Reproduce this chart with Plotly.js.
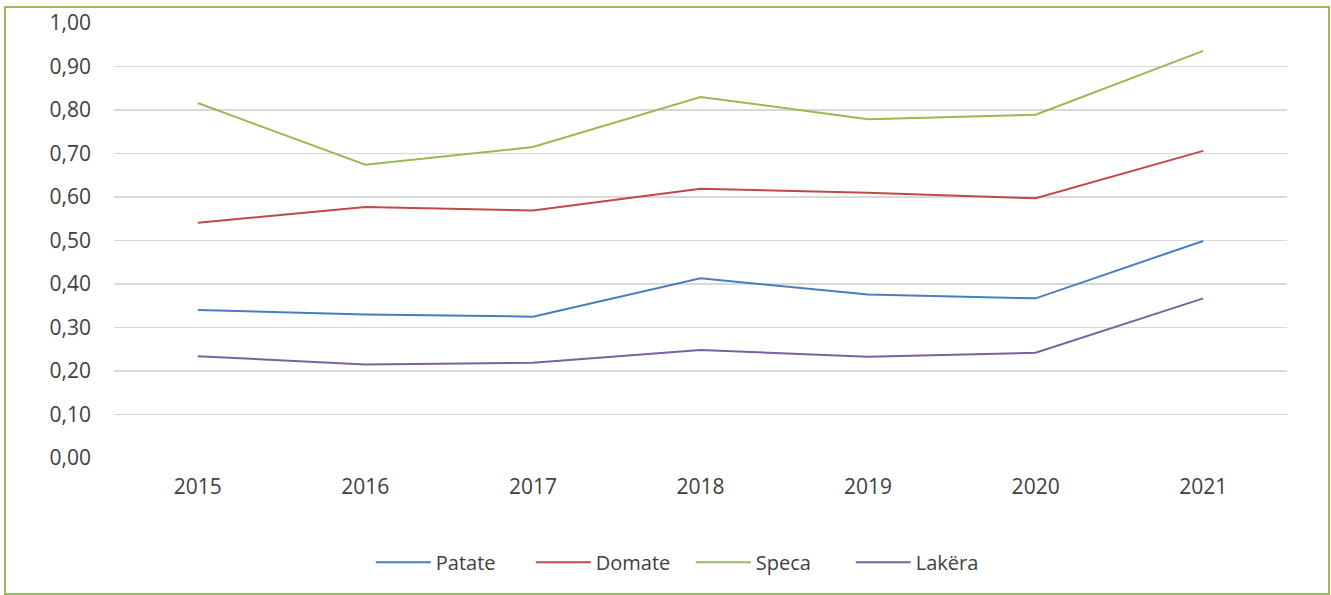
<!DOCTYPE html>
<html>
<head>
<meta charset="utf-8">
<script src="https://cdn.plot.ly/plotly-3.0.1.min.js"></script>
<style>
html,body{margin:0;padding:0;background:#fff;}
#wrap{position:relative;width:1331px;height:595px;}
#chart{width:1331px;height:595px;}
#frame{position:absolute;left:4px;top:6px;width:1322px;height:585px;border:2px solid #9bbb59;pointer-events:none;}
</style>
</head>
<body>
<div id="wrap"><div id="chart"></div><div id="frame"></div></div>
<script>
const years = ['2015','2016','2017','2018','2019','2020','2021'];
const patate = [0.34, 0.33, 0.325, 0.413, 0.376, 0.367, 0.499];
const domate = [0.541, 0.577, 0.569, 0.619, 0.610, 0.597, 0.706];
const speca  = [0.816, 0.674, 0.715, 0.830, 0.779, 0.789, 0.936];
const lakera = [0.234, 0.215, 0.219, 0.248, 0.233, 0.242, 0.367];
const seriesNames = ['Patate','Domate','Speca','Lakëra'];
const colors = ['#4a7ebb','#be4b48','#98b954','#7d60a0'];
const vals = [patate, domate, speca, lakera];

const traces = vals.map((v,i)=>({
  x: years, y: v, type:'scatter', mode:'lines', name: seriesNames[i],
  line:{color: colors[i], width:2}
}));

const layout = {
  width:1331, height:595,
  margin:{l:114, r:44, t:23, b:137},
  paper_bgcolor:'#fff', plot_bgcolor:'#fff',
  separators:',.',
  font:{family:'Open Sans, sans-serif', color:'#404040', size:20},
  showlegend:true,
  xaxis:{type:'category', range:[-0.5,6.5], showgrid:false, zeroline:false, showline:false,
         ticks:'', tickfont:{size:21, color:'#404040'}, ticklabelstandoff:14},
  yaxis:{range:[0,1], dtick:0.1, tick0:0, tickformat:'.2f', showgrid:true, gridcolor:'#d9d9d9', gridwidth:1.5,
         zeroline:false, showline:false, ticks:'', tickfont:{size:21, color:'#404040'}, ticklabelstandoff:22},
  legend:{orientation:'h', xref:'container', yref:'container', x:0.519, xanchor:'center', y:0.055, yanchor:'middle',
          font:{size:20, color:'#404040'}, itemwidth:55, entrywidth:90, entrywidthmode:'pixels', tracegroupgap:0}
};
Plotly.newPlot('chart', traces, layout, {displayModeBar:false, staticPlot:true});
</script>
</body>
</html>
